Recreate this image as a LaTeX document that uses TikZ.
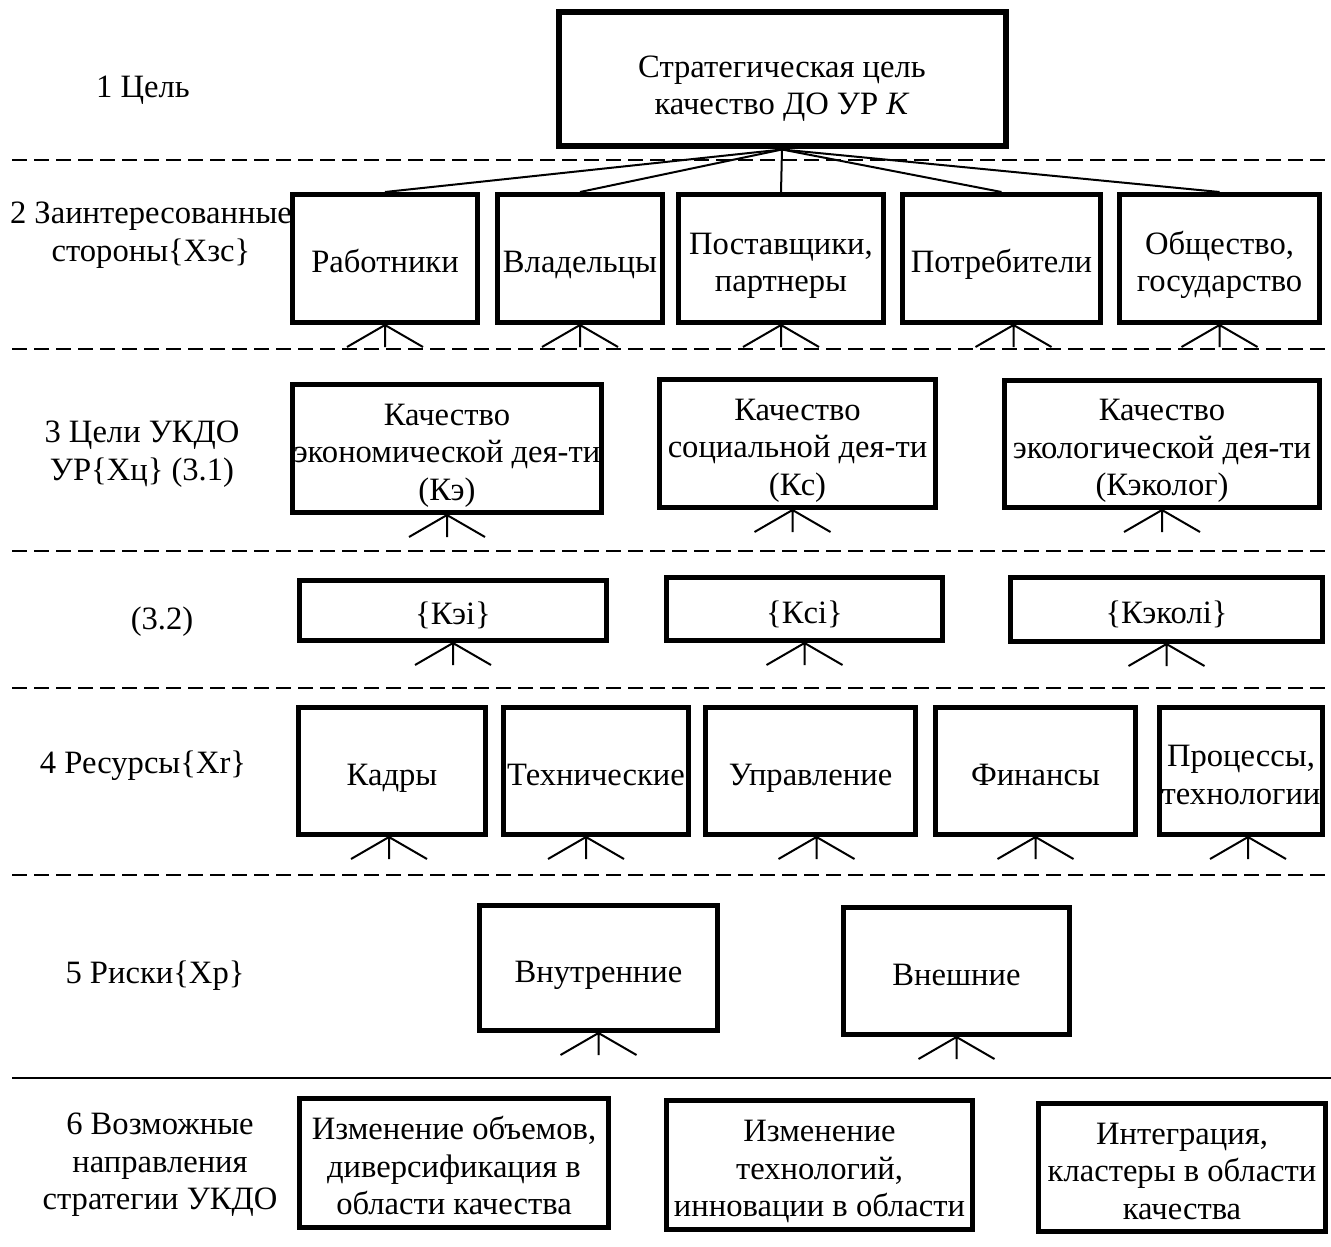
\documentclass[tikz,border=0pt]{standalone}
\usepackage{fontspec}
\setmainfont{Liberation Serif}
% invisible rules giving every text block the same top and bottom
\newcommand{\sxtop}{\rule{0pt}{18pt}}
\newcommand{\sxbot}{\rule[-3.6pt]{0pt}{3.6pt}}
\begin{document}
\begin{tikzpicture}[x=0.5pt,y=-0.5pt,
  txt/.style={font=\fontsize{16.3}{18.75}\selectfont, align=center, inner sep=0pt},
  box/.style={txt, draw, line width=2.5pt},
  goalbox/.style={txt, draw, line width=3pt},
  thinline/.style={line width=1pt},
  sepline/.style={line width=1pt, dash pattern=on 7.5pt off 3.5pt},
]
\useasboundingbox (0,0) rectangle (1331,1246);

% box given by its outer edges: name, x1, y1, x2, y2, text
\newcommand{\bx}[7][box]{%
  \node[#1, minimum width={(#5-#3-5)*0.5pt}, minimum height={(#6-#4-5)*0.5pt}]
    (#2) at ({(#3+#5)/2},{(#4+#6)/2}) {\sxtop#7\sxbot};}
% caption of a level
\newcommand{\lbl}[4]{\node[txt] (#1) at (#2,#3) {\sxtop#4\sxbot};}
% small fan of three strokes under a box (optional horizontal offset)
\newcommand{\fan}[2][0]{%
  \draw[thinline] ([xshift=#1*0.5pt]#2.south) coordinate (f) -- ++(0,22)
                  (f) -- ++(-38,22)
                  (f) -- ++(38,22);}

% level separators
\foreach \yy in {160,349,551,688,875}
  {\draw[sepline] (12,\yy) -- (1331,\yy);}
\draw[thinline] (12,1078) -- (1331,1078);

% level captions
\lbl{l1}{143}{83}{1 Цель}
\lbl{l2}{151}{228}{2 Заинтересованные\\стороны\{Хзс\}}
\lbl{l3}{142}{447}{3 Цели УКДО\\УР\{Хц\} (3.1)}
\lbl{l32}{162}{615}{(3.2)}
\lbl{l4}{143}{759}{4 Ресурсы\{Хr\}}
\lbl{l5}{155}{969}{5 Риски\{Хр\}}
\lbl{l6}{160}{1158}{6 Возможные\\направления\\стратегии УКДО}

% 1: goal
\bx[goalbox]{goal}{556}{10}{1008}{149}{\rule{0pt}{20pt}Стратегическая цель\\качество ДО УР \textit{К}}

% 2: stakeholders
\bx{s1}{290}{192}{480}{325}{Работники}
\bx{s2}{495}{192}{665}{325}{Владельцы}
\bx{s3}{676}{192}{886}{325}{Поставщики,\\партнеры}
\bx{s4}{900}{192}{1103}{325}{Потребители}
\bx{s5}{1117}{192}{1322}{325}{Общество,\\государство}
\foreach \n in {s1,s2,s3,s5} {
  \draw[thinline] (goal.south) -- (\n.north);
  \fan{\n}
}
\draw[thinline] (goal.south) -- (s4.north);
\fan[12]{s4}

% 3.1: goals of quality management
\bx{g1}{290}{382}{604}{515}{Качество\\экономической дея-ти\\(Кэ)}
\bx{g2}{657}{377}{938}{510}{Качество\\социальной дея-ти\\(Кс)}
\bx{g3}{1002}{378}{1322}{510}{Качество\\экологической дея-ти\\(Кэколог)}
\fan{g1}
\fan[-5]{g2}
\fan{g3}

% 3.2: indicator sets
\bx{k1}{297}{578}{609}{643}{\{Кэi\}}
\bx{k2}{664}{575}{945}{643}{\{Кci\}}
\bx{k3}{1008}{575}{1325}{644}{\{Кэколi\}}
\foreach \n in {k1,k2,k3} {\fan{\n}}

% 4: resources
\bx{r1}{296}{705}{488}{837}{Кадры}
\bx{r2}{501}{705}{691}{837}{Технические}
\bx{r3}{703}{705}{918}{837}{Управление}
\bx{r4}{933}{705}{1138}{837}{Финансы}
\bx{r5}{1157}{705}{1325}{837}{Процессы,\\технологии}
\fan[-3]{r1}
\fan[-10]{r2}
\fan[6]{r3}
\fan{r4}
\fan[7]{r5}

% 5: risks
\bx{p1}{477}{903}{720}{1033}{Внутренние}
\bx{p2}{841}{905}{1072}{1037}{Внешние}
\foreach \n in {p1,p2} {\fan{\n}}

% 6: strategy directions
\bx{d1}{297}{1096}{611}{1230}{Изменение объемов,\\диверсификация в\\области качества}
\bx{d2}{664}{1098}{975}{1232}{Изменение\\технологий,\\инновации в области}
\bx{d3}{1036}{1101}{1328}{1234}{Интеграция,\\кластеры в области\\качества}
\end{tikzpicture}
\end{document}
